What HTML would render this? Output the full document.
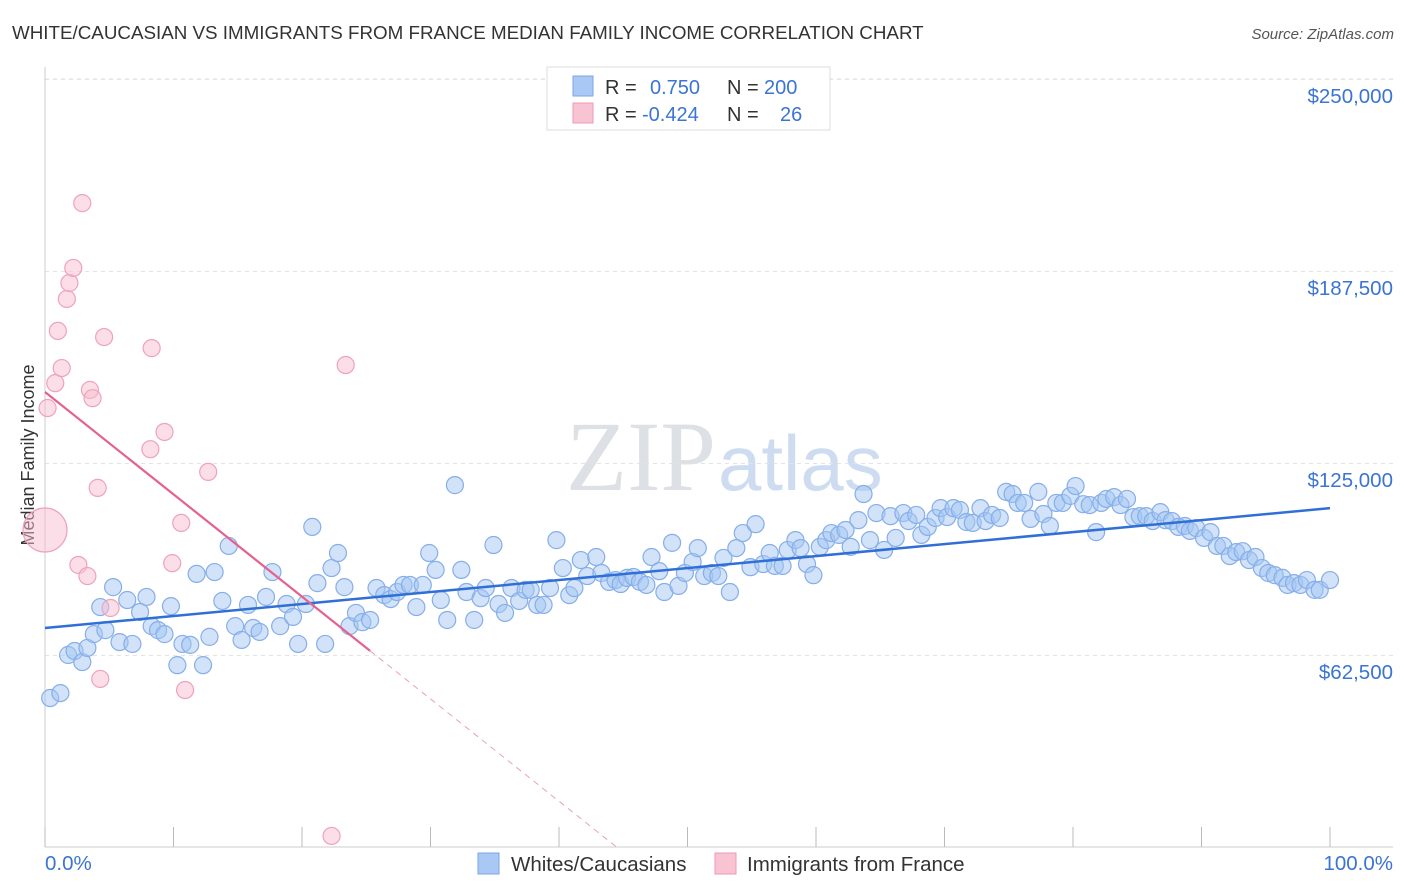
<!DOCTYPE html>
<html><head><meta charset="utf-8"><style>
body{margin:0;background:#fff;font-family:"Liberation Sans",sans-serif;}
#wrap{position:relative;width:1406px;height:892px;overflow:hidden}
</style></head><body>
<div id="wrap">
<svg id="svg" width="1406" height="892" xmlns="http://www.w3.org/2000/svg">
<text x="12" y="39" font-size="18.8" fill="#333">WHITE/CAUCASIAN VS IMMIGRANTS FROM FRANCE MEDIAN FAMILY INCOME CORRELATION CHART</text>
<text x="1394" y="39" font-size="15" fill="#555" font-style="italic" text-anchor="end">Source: ZipAtlas.com</text>
<text x="716" y="490" font-size="100" fill="#dde0e4" text-anchor="end" font-family="Liberation Serif,serif">ZIP</text>
<text x="718" y="490" font-size="78" fill="#cddcf0">atlas</text>
<text transform="translate(34,455) rotate(-90)" font-size="18" fill="#333" text-anchor="middle">Median Family Income</text>
<g id="grid"></g><g id="pts"></g><g id="trend"></g>
<g>
<rect x="547" y="67" width="283" height="63" fill="#fff" stroke="#ddd"/>
<rect x="573" y="76" width="20" height="20" fill="#a9c8f3" stroke="#7aa6e6"/>
<rect x="573" y="103" width="20" height="20" fill="#f8c3d3" stroke="#ee9ab4"/>
<text y="94" font-size="20" fill="#333"><tspan x="605">R =</tspan><tspan x="650" fill="#3b74d3">0.750</tspan><tspan x="727">N =</tspan><tspan x="764" fill="#3b74d3">200</tspan></text>
<text y="121" font-size="20" fill="#333"><tspan x="605">R =</tspan><tspan x="642" fill="#3b74d3">-0.424</tspan><tspan x="727">N =</tspan><tspan x="780" fill="#3b74d3">26</tspan></text>
</g>
<g>
<rect x="478" y="853" width="21" height="21" fill="#a9c8f3" stroke="#7aa6e6"/>
<text x="511" y="871" font-size="20.5" fill="#333">Whites/Caucasians</text>
<rect x="715" y="853" width="21" height="21" fill="#f8c3d3" stroke="#ee9ab4"/>
<text x="747" y="871" font-size="20.5" fill="#333">Immigrants from France</text>
</g>
<text x="45" y="870" font-size="20.5" fill="#3b74d3">0.0%</text>
<text x="1393" y="870" font-size="20.5" fill="#3b74d3" text-anchor="end">100.0%</text>
</svg>
</div>
<script>
const yTicks=[62.5,125,187.5,250];
const yTickLabels=["$62,500","$125,000","$187,500","$250,000"];
const blueX=[0.4,1.2,1.8,2.3,2.9,3.3,3.8,4.3,4.7,5.3,5.8,6.4,6.8,7.4,7.9,8.3,8.8,9.3,9.8,10.3,10.7,11.3,11.8,12.3,12.8,13.2,13.8,14.3,14.8,15.3,15.8,16.2,16.7,17.2,17.7,18.3,18.8,19.3,19.7,20.3,20.8,21.2,21.8,22.3,22.8,23.3,23.7,24.2,24.7,25.3,25.8,26.4,26.9,27.4,27.9,28.4,28.9,29.4,29.9,30.4,30.8,31.3,31.9,32.4,32.8,33.4,33.9,34.3,34.9,35.3,35.8,36.3,36.9,37.4,37.8,38.3,38.8,39.3,39.8,40.3,40.8,41.2,41.7,42.2,42.9,43.3,43.9,44.4,44.8,45.3,45.8,46.3,46.8,47.2,47.8,48.2,48.8,49.3,49.8,50.4,50.8,51.3,51.9,52.4,52.8,53.3,53.8,54.3,54.9,55.3,55.9,56.4,56.8,57.4,57.8,58.4,58.8,59.3,59.8,60.3,60.8,61.2,61.8,62.3,62.7,63.3,63.7,64.2,64.7,65.3,65.8,66.2,66.8,67.2,67.8,68.2,68.7,69.3,69.7,70.2,70.7,71.2,71.7,72.2,72.8,73.2,73.7,74.3,74.8,75.3,75.7,76.2,76.7,77.3,77.7,78.2,78.7,79.2,79.8,80.2,80.8,81.3,81.8,82.2,82.6,83.2,83.7,84.2,84.7,85.2,85.7,86.2,86.8,87.2,87.7,88.2,88.7,89.1,89.6,90.2,90.7,91.2,91.7,92.2,92.7,93.2,93.7,94.2,94.7,95.2,95.7,96.3,96.7,97.2,97.7,98.2,98.8,99.2,100];
const blueY=[48.5,50.1,62.5,63.8,60.2,64.8,69.3,78.1,70.6,84.6,66.7,80.4,66.1,76.5,81.4,71.9,70.6,69.3,78.4,59.2,66.1,65.8,88.9,59.2,68.4,89.5,80.1,98.0,71.9,67.4,78.8,71.3,70.0,81.4,89.5,71.9,79.1,74.9,66.1,79.1,104.2,85.9,66.1,90.8,95.7,84.6,71.9,76.2,73.2,73.9,84.3,82.0,80.7,83.0,85.3,85.3,78.1,85.3,95.7,90.2,80.4,73.9,117.8,90.2,83.0,73.9,81.0,84.3,98.3,79.1,76.2,84.3,80.1,83.7,83.7,78.8,78.8,84.3,99.9,90.8,82.0,84.3,93.4,88.2,94.4,89.2,86.3,86.9,85.6,87.6,87.9,86.3,85.3,94.4,89.8,83.0,99.0,85.0,89.2,92.8,97.3,88.2,89.2,88.2,94.1,83.0,97.3,102.2,91.1,105.1,92.1,95.7,91.5,91.5,96.7,99.9,97.3,92.1,88.5,97.7,99.9,102.2,101.6,103.2,97.7,106.4,114.9,99.9,108.7,96.7,107.7,100.6,108.7,106.1,108.1,101.6,104.2,107.1,110.3,107.4,110.3,109.7,105.8,105.5,110.3,106.1,108.1,107.1,115.6,114.9,112.0,112.0,106.8,115.6,108.4,104.5,112.0,112.0,114.3,117.5,111.6,111.3,102.5,112.0,113.3,113.9,111.3,113.3,107.4,107.7,107.7,106.1,109.0,106.4,106.1,104.2,104.5,102.9,103.8,100.6,102.5,98.0,98.0,94.7,96.0,96.3,93.4,94.4,90.8,89.2,88.5,87.6,85.3,85.9,85.3,86.9,83.7,83.7,86.9];
const pinkX=[0,0.2,0.8,1.0,1.3,1.7,1.9,2.2,2.9,2.6,3.3,3.5,3.7,4.1,4.3,4.6,5.1,8.3,9.3,8.2,9.9,10.6,10.9,12.7,23.4,22.3];
const pinkY=[103.2,142.9,151.0,168.0,155.9,178.4,183.6,188.5,209.6,91.8,88.2,148.8,146.1,116.9,54.7,166.0,77.8,162.4,135.1,129.5,92.4,105.5,51.1,122.1,156.9,3.6];
const blueTrend=[71.3,110.3];
const pinkTrend=[148.1,-3.33];
const pinkSolidEnd=25.3;
const NS="http://www.w3.org/2000/svg";
const X=v=>45+v*12.85, Y=v=>847-v*3.072;
function mk(tag,attrs,parent){const e=document.createElementNS(NS,tag);for(const k in attrs)e.setAttribute(k,attrs[k]);parent.appendChild(e);return e;}
const grid=document.getElementById('grid'),pts=document.getElementById('pts'),tr=document.getElementById('trend');
yTicks.forEach((t,i)=>{
 const l=mk('line',{x1:45,x2:1393,y1:Y(t)+0.5,y2:Y(t)+0.5,stroke:'#e3e3e3','stroke-dasharray':'4,4'},grid);
 
 
 const tx=mk('text',{x:1393,y:Y(t)+24,'font-size':20.5,fill:'#3b74d3','text-anchor':'end'},grid);
 tx.textContent=yTickLabels[i];
 
 
});
const topLine=mk('line',{x1:45,x2:1393,y1:79,y2:79,stroke:'#e3e3e3','stroke-dasharray':'4,4'},grid);


const ax=mk('line',{x1:45,x2:45,y1:67,y2:847,stroke:'#ccc'},grid);


const bx=mk('line',{x1:45,x2:1393,y1:847,y2:847,stroke:'#ccc'},grid);


for(let i=0;i<=10;i++){const t=mk('line',{x1:X(i*10),x2:X(i*10),y1:827,y2:847,stroke:'#bbb'},grid);
 
 }
blueX.forEach((x,i)=>{const c=mk('circle',{cx:X(x),cy:Y(blueY[i]),r:8.5,fill:'rgba(164,198,243,0.5)',stroke:'#86aee9','stroke-width':1.2},pts);
 
 });
pinkX.forEach((x,i)=>{const c=mk('circle',{cx:X(x),cy:Y(pinkY[i]),r:i===0?22:8.5,fill:'rgba(248,190,208,0.5)',stroke:'#f0a2ba','stroke-width':1.2},pts);
 
 });
const bl=mk('line',{x1:X(0),y1:Y(blueTrend[0]),x2:X(100),y2:Y(blueTrend[1]),stroke:'#2f6fd6','stroke-width':2.5},tr);


const zeroX=-pinkTrend[0]/pinkTrend[1];
const pd=mk('line',{x1:X(pinkSolidEnd),y1:Y(pinkTrend[0]+pinkTrend[1]*pinkSolidEnd),x2:X(zeroX),y2:Y(0),stroke:'#e8a0b8','stroke-width':1,'stroke-dasharray':'6,5'},tr);


const pl=mk('line',{x1:X(0),y1:Y(pinkTrend[0]),x2:X(pinkSolidEnd),y2:Y(pinkTrend[0]+pinkTrend[1]*pinkSolidEnd),stroke:'#e4628e','stroke-width':2.2},tr);


</script>
</body></html>
